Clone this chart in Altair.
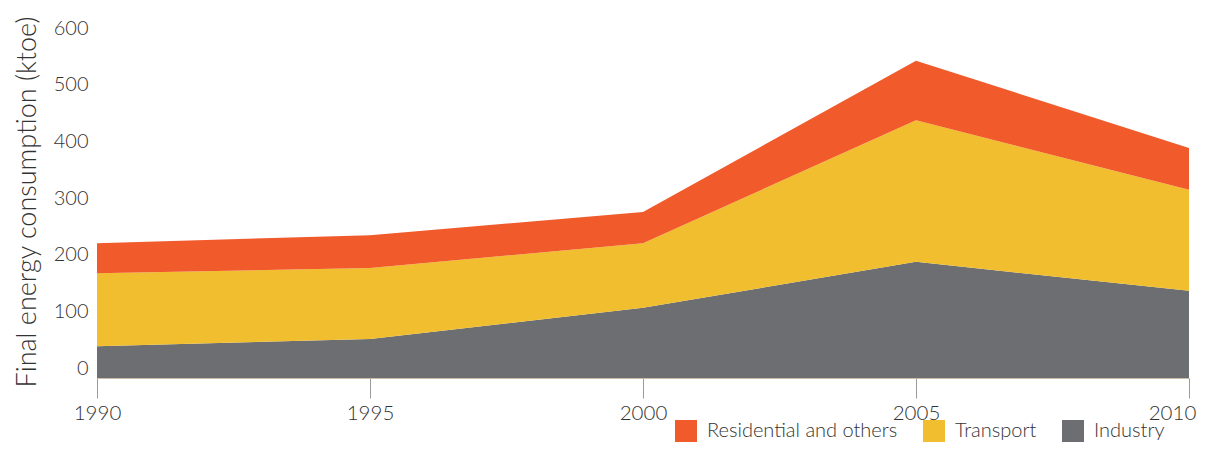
import altair as alt
import pandas as pd

years = [1990, 1995, 2000, 2005, 2010]
industry = [56, 69, 124, 205, 154]
transport = [129, 125, 114, 250, 178]
residential = [53, 58, 55, 105, 74]

series = ["Residential and others", "Transport", "Industry"]
colors = ["#F15A2B", "#F0BE2E", "#6D6E71"]
stack_rank = {"Industry": 0, "Transport": 1, "Residential and others": 2}

rows = []
for name, vals in [("Industry", industry), ("Transport", transport), ("Residential and others", residential)]:
    for y, v in zip(years, vals):
        rows.append({"year": y, "value": v, "sector": name, "rank": stack_rank[name]})
df = pd.DataFrame(rows)

FONT = "Lato"

chart = alt.Chart(df).mark_area(interpolate="linear").encode(
    x=alt.X("year:Q",
            scale=alt.Scale(domain=[1990, 2010], nice=False, zero=False),
            axis=alt.Axis(values=years, format="d", title=None, grid=False,
                          tickSize=20, tickColor="#9a9a9a", tickWidth=1,
                          domainColor="#c9bda8", domainWidth=1,
                          labelFontSize=20.5, labelFont=FONT, labelFontWeight=300,
                          labelColor="#333333", labelPadding=5, labelFlush=False,
                          labelOffset={"condition": {"test": "datum.value == 2010", "value": -17},
                                       "value": 0})),
    y=alt.Y("sum(value):Q", stack="zero",
            scale=alt.Scale(domain=[0, 600], nice=False),
            axis=alt.Axis(values=[0, 100, 200, 300, 400, 500, 600], title="Final energy consumption (ktoe)",
                          grid=False, ticks=False, domain=False,
                          labelFontSize=20, labelFont=FONT, labelFontWeight=300,
                          labelColor="#333333", labelPadding=9, labelOffset=-10,
                          titleFontSize=27, titleFont=FONT, titleFontWeight=300,
                          titleColor="#333333", titleBaseline="alphabetic",
                          titleX=-62, titleY=163.5, titleAlign="center", titleAngle=270)),
    color=alt.Color("sector:N",
                    scale=alt.Scale(domain=series, range=colors),
                    legend=alt.Legend(title=None, orient="none", direction="horizontal",
                                      legendX=578, legendY=382,
                                      symbolType="square", symbolSize=484,
                                      symbolStrokeWidth=0, symbolOpacity=1,
                                      labelFontSize=20, labelFont=FONT, labelFontWeight=300,
                                      labelColor="#333333", labelOffset=10, labelLimit=0,
                                      columnPadding=25)),
    order=alt.Order("rank:Q", sort="ascending"),
).properties(
    width=1092, height=340,
    autosize=alt.AutoSizeParams(type="none"),
    padding={"left": 89, "top": 30, "right": 11, "bottom": 66},
).configure_view(stroke=None)

chart.save("out.html", embed_options={"renderer": "svg", "actions": False})
